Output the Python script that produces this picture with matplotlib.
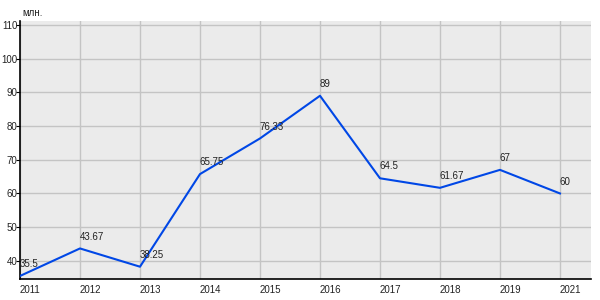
import matplotlib
matplotlib.use("Agg")
import matplotlib.pyplot as plt

# данные
years = ['2011', '2012', '2013', '2014', '2015', '2016', '2017', '2018', '2019', '2021']
values = [35.5, 43.67, 38.25, 65.75, 76.33, 89, 64.5, 61.67, 67, 60]
labels = ['35.5', '43.67', '38.25', '65.75', '76.33', '89', '64.5', '61.67', '67', '60']
yticks = [40, 50, 60, 70, 80, 90, 100, 110]

plt.rcParams['font.family'] = ['Liberation Sans', 'DejaVu Sans']

fig = plt.figure(figsize=(6, 3), dpi=100)
ax = fig.add_axes([0.0333, 0.07, 0.952, 0.86])
ax.set_facecolor('#ebebeb')

x = list(range(len(years)))
ax.plot(x, values, color='#0047e6', lw=1.5, zorder=3)
for xi, v, s in zip(x, values, labels):
    ax.annotate(s, (xi, v), xytext=(0, 5), textcoords='offset points',
                fontsize=7, color='#222222', ha='left', va='bottom', zorder=4)

ax.set_xlim(0, 9.52)
ax.set_ylim(34.6, 111.2)
ax.set_xticks(x)
ax.set_xticklabels(years, ha='left')
ax.set_yticks(yticks)
ax.grid(True, color='#c4c4c4', lw=1)
ax.set_axisbelow(True)

for side in ['top', 'right']:
    ax.spines[side].set_visible(False)
for side in ['left', 'bottom']:
    ax.spines[side].set_color('black')
    ax.spines[side].set_linewidth(1.2)

ax.tick_params(axis='x', length=0, pad=4, labelsize=7, labelcolor='#222222')
ax.tick_params(axis='y', length=3, pad=-1, labelsize=7, labelcolor='#222222')

fig.text(0.037, 0.957, 'млн.', fontsize=7, color='#222222', ha='left', va='center')

fig.savefig('out.png', dpi=100)
